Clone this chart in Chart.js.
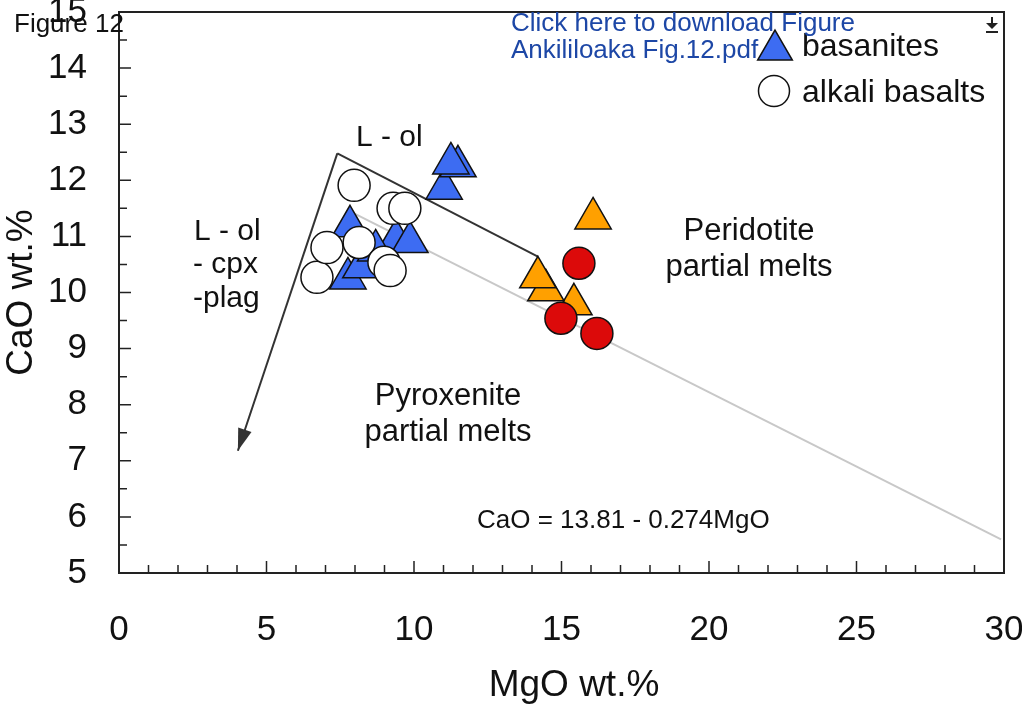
<!DOCTYPE html>
<html>
<head>
<meta charset="utf-8">
<title>Figure 12 - CaO vs MgO</title>
<script src="https://cdn.jsdelivr.net/npm/chart.js@4.4.1/dist/chart.umd.min.js"></script>
<style>
  html, body { margin: 0; padding: 0; background: #fff; }
  #wrap { width: 1022px; height: 704px; }
</style>
</head>
<body>
<div id="wrap"><canvas id="chart" width="1022" height="704"></canvas></div>
<script>
// basanites (blue triangles)
const basaniteMgO = [11.02, 11.49, 11.25, 7.83, 7.76, 9.39, 9.86, 8.2, 8.7];
const basaniteCaO = [11.85, 12.25, 12.30, 11.18, 10.25, 10.94, 10.90, 10.45, 10.75];

// alkali basalts (white circles)
const alkaliMgO = [7.97, 9.29, 9.69, 6.71, 8.14, 7.05, 8.98, 9.19];
const alkaliCaO = [11.91, 11.50, 11.50, 10.27, 10.89, 10.80, 10.54, 10.39];

// orange triangles
const orangeMgO = [15.42, 14.47, 14.2, 16.07];
const orangeCaO = [9.79, 10.04, 10.27, 11.32];

// red circles
const redMgO = [15.59, 14.98, 16.2];
const redCaO = [10.52, 9.54, 9.27];

// trend lines
const olLineMgO = [7.4, 14.2];
const olLineCaO = [12.48, 10.64];
const arrowMgO = [7.4, 4.03];
const arrowCaO = [12.48, 7.18];
const regMgO = [8.0, 29.9];
const regCaO = [11.40, 5.60];

// axis ticks
const xTicks = [0, 5, 10, 15, 20, 25, 30];
const yTicks = [5, 6, 7, 8, 9, 10, 11, 12, 13, 14, 15];

const FONT = 'Liberation Sans, Arial, sans-serif';
const NO_PAD = () => ({ left: 0, top: 0, right: 0, bottom: 0 });

function toPoints(xs, ys) {
    return xs.map((x, i) => ({ x: x, y: ys[i] }));
}

function marker(ctx, style, x, y, r, fill) {
    ctx.save();
    ctx.fillStyle = fill;
    ctx.strokeStyle = '#111';
    ctx.lineWidth = 1.5;
    ctx.beginPath();
    if (style === 'triangle') {
        const a = 2 * Math.PI / 3;
        ctx.moveTo(x, y - r);
        ctx.lineTo(x + Math.sin(a) * r, y - Math.cos(a) * r);
        ctx.lineTo(x + Math.sin(2 * a) * r, y - Math.cos(2 * a) * r);
        ctx.closePath();
    } else {
        ctx.arc(x, y, r, 0, Math.PI * 2);
    }
    ctx.fill();
    ctx.stroke();
    ctx.restore();
}

const decorations = {
    id: 'decorations',
    beforeDatasetsDraw(chart) {
        const { ctx, chartArea: a, scales: { x, y } } = chart;
        ctx.save();
        ctx.strokeStyle = '#222';
        ctx.lineWidth = 2;
        ctx.strokeRect(a.left, a.top, a.right - a.left, a.bottom - a.top);

        // inward tick marks
        ctx.lineWidth = 1.5;
        ctx.beginPath();
        for (let v = x.min + 1; v < x.max; v++) {
            const px = x.getPixelForValue(v);
            const len = v % 5 === 0 ? 12 : 8;
            ctx.moveTo(px, a.bottom);
            ctx.lineTo(px, a.bottom - len);
        }
        for (let v = y.min + 0.5; v < y.max; v += 0.5) {
            const py = y.getPixelForValue(v);
            const len = Number.isInteger(v) ? 12 : 8;
            ctx.moveTo(a.left, py);
            ctx.lineTo(a.left + len, py);
        }
        ctx.stroke();
        ctx.restore();
    },
    afterDatasetsDraw(chart) {
        const { ctx, scales: { x, y } } = chart;
        // arrow head at end of the fractionation vector
        const x0 = x.getPixelForValue(arrowMgO[0]), y0 = y.getPixelForValue(arrowCaO[0]);
        const x1 = x.getPixelForValue(arrowMgO[1]), y1 = y.getPixelForValue(arrowCaO[1]);
        const ang = Math.atan2(y1 - y0, x1 - x0);
        const len = 22, half = 7;
        ctx.save();
        ctx.fillStyle = '#333';
        ctx.beginPath();
        ctx.moveTo(x1, y1);
        ctx.lineTo(x1 - len * Math.cos(ang) + half * Math.sin(ang), y1 - len * Math.sin(ang) - half * Math.cos(ang));
        ctx.lineTo(x1 - len * Math.cos(ang) - half * Math.sin(ang), y1 - len * Math.sin(ang) + half * Math.cos(ang));
        ctx.closePath();
        ctx.fill();
        ctx.restore();
    },
    afterDraw(chart) {
        const { ctx } = chart;
        ctx.save();
        ctx.fillStyle = '#111';
        ctx.textBaseline = 'alphabetic';

        // annotations
        ctx.font = '30px ' + FONT;
        ctx.textAlign = 'left';
        ctx.fillText('L - ol', 356, 146);
        ctx.fillText('L - ol', 194, 240);
        ctx.fillText('- cpx', 193, 273);
        ctx.fillText('-plag', 193, 307);

        ctx.font = '31px ' + FONT;
        ctx.textAlign = 'center';
        ctx.fillText('Peridotite', 749, 240);
        ctx.fillText('partial melts', 749, 276);
        ctx.fillText('Pyroxenite', 448, 405);
        ctx.fillText('partial melts', 448, 441);

        // x axis title
        ctx.font = '37px ' + FONT;
        ctx.fillText('MgO wt.%', 574, 696);

        ctx.font = '26px ' + FONT;
        ctx.textAlign = 'left';
        ctx.fillText('CaO = 13.81 - 0.274MgO', 477, 528);

        // legend
        marker(ctx, 'triangle', 775, 50, 20, '#3d6cf2');
        marker(ctx, 'circle', 774, 91, 15.5, '#ffffff');
        ctx.fillStyle = '#111';
        ctx.font = '32px ' + FONT;
        ctx.fillText('basanites', 802, 56);
        ctx.fillText('alkali basalts', 802, 102);

        // page header
        ctx.font = '26px ' + FONT;
        ctx.fillText('Figure 12', 14, 32);
        ctx.fillStyle = '#1d47a6';
        ctx.fillText('Click here to download Figure', 511, 31);
        ctx.fillText('Ankililoaka Fig.12.pdf', 511, 58);

        // download icon
        ctx.strokeStyle = '#222';
        ctx.fillStyle = '#222';
        ctx.lineWidth = 2;
        ctx.beginPath();
        ctx.moveTo(992, 17); ctx.lineTo(992, 24);
        ctx.moveTo(986, 32); ctx.lineTo(998, 32);
        ctx.stroke();
        ctx.beginPath();
        ctx.moveTo(986, 23); ctx.lineTo(998, 23); ctx.lineTo(992, 29);
        ctx.closePath();
        ctx.fill();
        ctx.restore();
    }
};

const lineStyle = { showLine: true, pointRadius: 0, pointHoverRadius: 0, fill: false };

new Chart(document.getElementById('chart'), {
    type: 'scatter',
    data: {
        datasets: [
            {
                label: 'alkali basalts',
                data: toPoints(alkaliMgO, alkaliCaO),
                pointStyle: 'circle',
                pointRadius: 16,
                backgroundColor: '#ffffff',
                borderColor: '#111',
                borderWidth: 1.5
            },
            {
                label: 'basanites',
                data: toPoints(basaniteMgO, basaniteCaO),
                pointStyle: 'triangle',
                pointRadius: 21,
                backgroundColor: '#3d6cf2',
                borderColor: '#111',
                borderWidth: 1.5
            },
            {
                label: 'red circles',
                data: toPoints(redMgO, redCaO),
                pointStyle: 'circle',
                pointRadius: 16,
                backgroundColor: '#dc0a0a',
                borderColor: '#111',
                borderWidth: 1.5
            },
            {
                label: 'orange triangles',
                data: toPoints(orangeMgO, orangeCaO),
                pointStyle: 'triangle',
                pointRadius: 21,
                backgroundColor: '#ffa000',
                borderColor: '#111',
                borderWidth: 1.5
            },
            Object.assign({
                label: 'L - ol',
                data: toPoints(olLineMgO, olLineCaO),
                borderColor: '#333',
                borderWidth: 2
            }, lineStyle),
            Object.assign({
                label: 'L - ol - cpx - plag',
                data: toPoints(arrowMgO, arrowCaO),
                borderColor: '#333',
                borderWidth: 2
            }, lineStyle),
            Object.assign({
                label: 'regression',
                data: toPoints(regMgO, regCaO),
                borderColor: '#c8c8c8',
                borderWidth: 2
            }, lineStyle)
        ]
    },
    options: {
        responsive: false,
        animation: false,
        layout: { autoPadding: false, padding: { top: 12, right: 18, left: 0, bottom: 0 } },
        plugins: {
            legend: { display: false },
            tooltip: { enabled: false }
        },
        scales: {
            x: {
                type: 'linear',
                min: 0,
                max: 30,
                grid: { display: false, drawTicks: false },
                border: { display: false },
                afterBuildTicks: (s) => { s.ticks = xTicks.map(v => ({ value: v })); },
                ticks: {
                    padding: 36,
                    color: '#111',
                    font: { family: FONT, size: 35 }
                },
                afterFit: (s) => {
                    s.height = 131;
                    s.paddingLeft = 0; s.paddingRight = 0;
                    s.getPadding = NO_PAD;
                }
            },
            y: {
                type: 'linear',
                min: 5,
                max: 15,
                grid: { display: false, drawTicks: false },
                border: { display: false },
                afterBuildTicks: (s) => { s.ticks = yTicks.map(v => ({ value: v })); },
                ticks: {
                    padding: 32,
                    color: '#111',
                    font: { family: FONT, size: 35 }
                },
                title: {
                    display: true,
                    text: 'CaO wt.%',
                    color: '#111',
                    padding: 0,
                    font: { family: FONT, size: 37 }
                },
                afterFit: (s) => {
                    s.width = 119;
                    s.paddingTop = 0; s.paddingBottom = 0;
                    s.getPadding = NO_PAD;
                }
            }
        }
    },
    plugins: [decorations]
});
</script>
</body>
</html>
